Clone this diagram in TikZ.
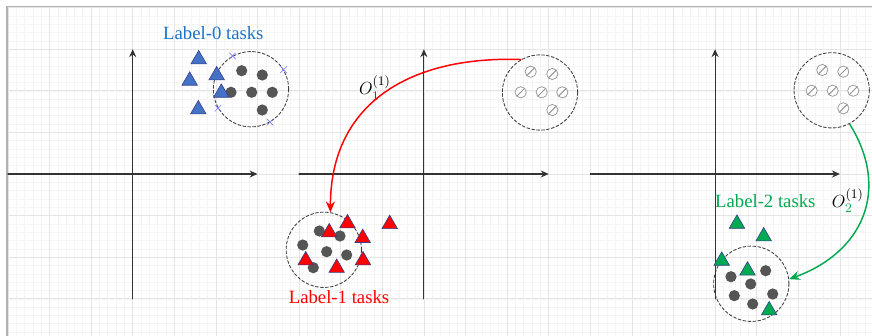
\documentclass[tikz,border=0pt]{standalone}
\usepackage{fontspec}
\setmainfont{Liberation Serif}
\usepackage{amsmath}
\usepackage{xcolor}
\usetikzlibrary{arrows.meta,shapes.geometric,shapes.misc}
\definecolor{triblue}{RGB}{68,114,196}
\definecolor{txtblue}{RGB}{28,114,198}
\definecolor{trigreen}{RGB}{0,170,80}
\definecolor{triedge}{RGB}{52,62,140}
\definecolor{dotgray}{RGB}{85,85,85}
\definecolor{hatchgray}{RGB}{150,150,150}
\definecolor{crossblue}{RGB}{120,120,255}

\begin{document}
\begin{tikzpicture}[>={Stealth[length=1.9mm,width=1.7mm]},line cap=round,
  ax/.style={draw=black!80,line width=0.7pt,->},
  grp/.style={circle,draw=black!75,dash pattern=on 2pt off 1.4pt,line width=0.6pt,minimum size=1.81cm,inner sep=0pt},
  tdot/.style={circle,fill=dotgray,minimum size=0.27cm,inner sep=0pt},
  hdot/.style={circle,draw=hatchgray,fill=white,line width=0.5pt,minimum size=0.27cm,inner sep=0pt,
    path picture={\draw[hatchgray,line width=0.7pt] (path picture bounding box.south west) -- (path picture bounding box.north east);}},
  tri/.style={regular polygon,regular polygon sides=3,minimum size=0.43cm,inner sep=0pt,yshift=-0.05cm,draw=triedge,line width=0.4pt},
  btri/.style={tri,fill=triblue},
  rtri/.style={tri,fill=red},
  gtri/.style={tri,fill=trigreen},
  xmk/.style={cross out,draw=crossblue,minimum size=0.14cm,inner sep=0pt,line width=0.4pt},
  lbl/.style={font=\fontsize{12.8}{15}\selectfont},
  olbl/.style={font=\fontsize{13}{15}\selectfont}]
\useasboundingbox (-3.19,-3.894) rectangle (17.772,4.183);
% background grid
\draw[black!4,line width=0.4pt] (-3.022,-3.894) grid[step=0.2] (17.772,4.026);
\draw[black!10,line width=0.5pt] (-3.022,-3.894) grid[step=1] (17.772,4.026);
\draw[black!30,line width=0.9pt] (-3.022,-3.894) -- (-3.022,4.026) -- (17.772,4.026);
% axes
\draw[ax] (-3,0) -- (3,0);
\draw[ax] (0,-3) -- (0,3);
\draw[ax] (4,0) -- (10,0);
\draw[ax] (7,-3) -- (7,3);
\draw[ax] (11,0) -- (17,0);
\draw[ax] (14,-3) -- (14,3);
% label-0 group
\node[grp] (c0) at (2.844,2.038) {};
\node[tdot] (a1) at (2.620,2.483) {};
\node[tdot] (a2) at (3.115,2.380) {};
\node[tdot] (a3) at (2.363,1.964) {};
\node[tdot] (a4) at (2.861,1.964) {};
\node[tdot] (a5) at (3.356,1.964) {};
\node[tdot] (a6) at (3.115,1.538) {};
\node[btri] (b1) at (1.587,2.805) {};
\node[btri] (b2) at (1.370,2.291) {};
\node[btri] (b3) at (2.019,2.421) {};
\node[btri] (b4) at (2.130,2.002) {};
\node[btri] (b5) at (1.577,1.603) {};
\node[xmk] (x1) at (c0.119) {};
\node[xmk] (x2) at (c0.31) {};
\node[xmk] (x3) at (c0.210) {};
\node[xmk] (x4) at (c0.300) {};
\node[lbl,text=txtblue] (l0) at (1.938,3.382) {Label-0 tasks};
% unlabelled groups
\node[grp] (h1) at (9.791,1.959) {};
\node[hdot] (p1) at (9.567,2.459) {};
\node[hdot] (p2) at (10.087,2.404) {};
\node[hdot] (p3) at (9.327,1.964) {};
\node[hdot] (p4) at (9.832,1.964) {};
\node[hdot] (p5) at (10.327,1.964) {};
\node[hdot] (p6) at (10.087,1.538) {};
\node[grp] (h2) at (16.803,2.012) {};
\node[hdot] (q1) at (16.577,2.500) {};
\node[hdot] (q2) at (17.082,2.459) {};
\node[hdot] (q3) at (16.322,2.002) {};
\node[hdot] (q4) at (16.827,2.002) {};
\node[hdot] (q5) at (17.322,2.002) {};
\node[hdot] (q6) at (17.082,1.579) {};
% label-1 group
\node[grp] (c1) at (4.594,-1.822) {};
\node[tdot] (d1) at (4.486,-1.370) {};
\node[tdot] (d2) at (4.983,-1.490) {};
\node[tdot] (d3) at (4.087,-1.707) {};
\node[tdot] (d4) at (4.663,-1.868) {};
\node[tdot] (d5) at (5.144,-1.947) {};
\node[tdot] (d6) at (4.341,-2.252) {};
\node[rtri] (r1) at (5.163,-1.137) {};
\node[rtri] (r2) at (4.724,-1.353) {};
\node[rtri] (r3) at (5.529,-1.490) {};
\node[rtri] (r4) at (6.178,-1.154) {};
\node[rtri] (r5) at (4.159,-2.026) {};
\node[rtri] (r6) at (4.904,-2.207) {};
\node[rtri] (r7) at (5.536,-2.026) {};
\node[lbl,text=red] (l1) at (4.960,-2.957) {Label-1 tasks};
% label-2 group
\node[grp] (c2) at (14.870,-2.639) {};
\node[tdot] (e1) at (14.382,-2.469) {};
\node[tdot] (e2) at (15.216,-2.325) {};
\node[tdot] (e3) at (14.856,-2.644) {};
\node[tdot] (e4) at (14.462,-2.925) {};
\node[tdot] (e5) at (15.385,-2.885) {};
\node[tdot] (e6) at (14.904,-3.125) {};
\node[gtri] (g1) at (14.526,-1.147) {};
\node[gtri] (g2) at (15.168,-1.450) {};
\node[gtri] (g3) at (14.159,-2.036) {};
\node[gtri] (g4) at (14.779,-2.272) {};
\node[gtri] (g5) at (15.300,-3.228) {};
\node[lbl,text=trigreen] (l2) at (15.207,-0.649) {Label-2 tasks};
% mappings
\draw[red,line width=1pt,->,>={Stealth[length=2.6mm,width=2.2mm]}] (h1.120) to[out=178,in=90,looseness=1.15] (c1.80);
\draw[trigreen,line width=1pt,->,>={Stealth[length=2.6mm,width=2.2mm]}] (h2.298) to[out=-58,in=20,looseness=1.2] (c2.7);
\node[olbl] (o1) at (5.82,2.07) {$O_{\textcolor{red}{1}}^{(1)}$};
\node[olbl] (o2) at (17.19,-0.64) {$O_{\textcolor{trigreen}{2}}^{(1)}$};
\end{tikzpicture}
\end{document}
